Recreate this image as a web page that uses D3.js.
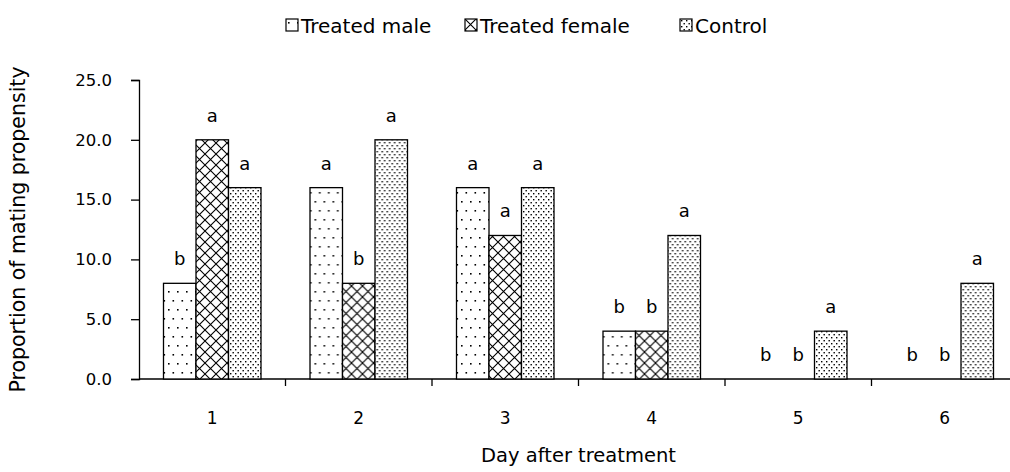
<!DOCTYPE html>
<html>
<head>
<meta charset="utf-8">
<script src="https://cdn.jsdelivr.net/npm/d3@7"></script>
<style>
  body { margin: 0; background: #fff; }
  text { font-family: "DejaVu Sans", sans-serif; fill: #000; }
</style>
</head>
<body>
<div id="chart"></div>
<script>
// data
var days = ["1", "2", "3", "4", "5", "6"];
var seriesNames = ["Treated male", "Treated female", "Control"];
var treatedMale = [8, 16, 16, 4, 0, 0];
var treatedFemale = [20, 8, 12, 4, 0, 0];
var control = [16, 20, 16, 12, 4, 8];
var maleLetters = ["b", "a", "a", "b", "b", "b"];
var femaleLetters = ["a", "b", "a", "b", "b", "b"];
var controlLetters = ["a", "a", "a", "a", "a", "a"];
var yTicks = [0, 5, 10, 15, 20, 25];

var width = 1010, height = 472;

var svg = d3.select("#chart")
    .append("svg")
    .attr("width", width)
    .attr("height", height);

// patterns
var defs = svg.append("defs");

var pSparse = defs.append("pattern")
    .attr("id", "sparse")
    .attr("patternUnits", "userSpaceOnUse")
    .attr("width", 9).attr("height", 18);
pSparse.append("rect").attr("width", 9).attr("height", 18).attr("fill", "#fff");
pSparse.append("rect").attr("x", 2).attr("y", 3).attr("width", 1.6).attr("height", 1.6).attr("fill", "#000");
pSparse.append("rect").attr("x", 6.5).attr("y", 12).attr("width", 1.6).attr("height", 1.6).attr("fill", "#000");

var pCross = defs.append("pattern")
    .attr("id", "cross")
    .attr("patternUnits", "userSpaceOnUse")
    .attr("width", 11).attr("height", 11);
pCross.append("rect").attr("width", 11).attr("height", 11).attr("fill", "#fff");
pCross.append("path")
    .attr("d", "M0,0L11,11M11,0L0,11M-1,10L1,12M10,-1L12,1")
    .attr("stroke", "#000").attr("stroke-width", 1.1);

var pDense = defs.append("pattern")
    .attr("id", "dense")
    .attr("patternUnits", "userSpaceOnUse")
    .attr("width", 5).attr("height", 6);
pDense.append("rect").attr("width", 5).attr("height", 6).attr("fill", "#fff");
pDense.append("rect").attr("x", 1).attr("y", 1).attr("width", 1.4).attr("height", 1.4).attr("fill", "#000");
pDense.append("rect").attr("x", 3.5).attr("y", 4).attr("width", 1.4).attr("height", 1.4).attr("fill", "#000");

var fills = ["url(#sparse)", "url(#cross)", "url(#dense)"];

// scales
var x0 = d3.scaleBand()
    .domain(days)
    .range([139, 1018])
    .padding(0);

var x1 = d3.scaleBand()
    .domain(seriesNames)
    .range([24.5, x0.bandwidth() - 24.5])
    .padding(0);

var y = d3.scaleLinear()
    .domain([0, 25])
    .range([379, 80]);

var rows = days.map(function (d, i) {
    return {
        day: d,
        vals: [
            { s: seriesNames[0], v: treatedMale[i], l: maleLetters[i], f: fills[0] },
            { s: seriesNames[1], v: treatedFemale[i], l: femaleLetters[i], f: fills[1] },
            { s: seriesNames[2], v: control[i], l: controlLetters[i], f: fills[2] }
        ]
    };
});

// Y axis
var yAxis = svg.append("g")
    .attr("transform", "translate(139,0)")
    .call(d3.axisLeft(y).tickValues(yTicks).tickFormat(d3.format(".1f")).tickSize(8).tickPadding(19));
yAxis.selectAll("text").style("font-size", "16.5px").attr("font-family", null);
yAxis.selectAll("line, path").attr("stroke", "#000").attr("stroke-width", 1.3);

// X axis: ticks on category boundaries
var xAxis = svg.append("g")
    .attr("transform", "translate(0,379)");
xAxis.append("line")
    .attr("x1", x0.range()[0]).attr("x2", x0.range()[1])
    .attr("stroke", "#000").attr("stroke-width", 1.3);
xAxis.selectAll(".tk")
    .data(days.slice(1))
    .enter().append("line")
    .attr("x1", function (d) { return x0(d); })
    .attr("x2", function (d) { return x0(d); })
    .attr("y1", 0).attr("y2", 7)
    .attr("stroke", "#000").attr("stroke-width", 1.3);
xAxis.selectAll(".lbl")
    .data(days)
    .enter().append("text")
    .attr("x", function (d) { return x0(d) + x0.bandwidth() / 2; })
    .attr("y", 45)
    .attr("text-anchor", "middle")
    .style("font-size", "17px")
    .text(function (d) { return d; });

// bars
var groups = svg.selectAll(".grp")
    .data(rows)
    .enter().append("g")
    .attr("transform", function (d) { return "translate(" + x0(d.day) + ",0)"; });

groups.selectAll("rect")
    .data(function (d) { return d.vals.filter(function (v) { return v.v > 0; }); })
    .enter().append("rect")
    .attr("x", function (d) { return x1(d.s); })
    .attr("y", function (d) { return y(d.v); })
    .attr("width", x1.bandwidth())
    .attr("height", function (d) { return y(0) - y(d.v); })
    .attr("fill", function (d) { return d.f; })
    .attr("stroke", "#000")
    .attr("stroke-width", 1.3);

groups.selectAll(".letter")
    .data(function (d) { return d.vals; })
    .enter().append("text")
    .attr("x", function (d) { return x1(d.s) + x1.bandwidth() / 2; })
    .attr("y", function (d) { return y(d.v) - 18; })
    .attr("text-anchor", "middle")
    .style("font-size", "18px")
    .text(function (d) { return d.l; });

// axis titles
svg.append("text")
    .attr("x", (x0.range()[0] + x0.range()[1]) / 2)
    .attr("y", 462)
    .attr("text-anchor", "middle")
    .style("font-size", "19.5px")
    .text("Day after treatment");

svg.append("text")
    .attr("transform", "translate(25," + ((y(0) + y(25)) / 2) + ") rotate(-90)")
    .attr("text-anchor", "middle")
    .style("font-size", "20.5px")
    .text("Proportion of mating propensity");

// legend
var legendX = [286, 465, 680];
var legend = svg.selectAll(".leg")
    .data(seriesNames)
    .enter().append("g")
    .attr("transform", function (d, i) { return "translate(" + legendX[i] + ",19)"; });
legend.append("rect")
    .attr("width", 12).attr("height", 12)
    .attr("fill", function (d, i) { return fills[i]; })
    .attr("stroke", "#000").attr("stroke-width", 1.2);
legend.append("text")
    .attr("x", 15)
    .attr("y", 13.5)
    .style("font-size", "20px")
    .text(function (d) { return d; });
</script>
</body>
</html>
